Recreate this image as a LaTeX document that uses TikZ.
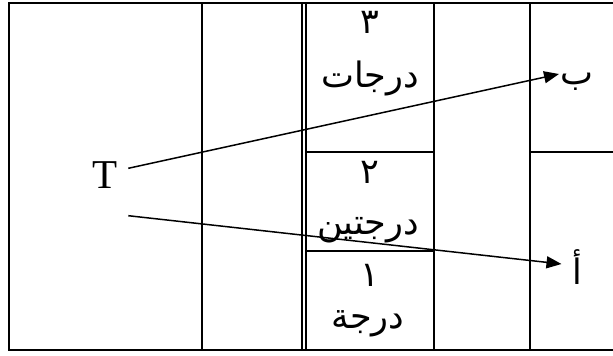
\documentclass[tikz,border=0pt]{standalone}
\usepackage{fontspec}
\setmainfont{Liberation Serif}
\newfontfamily\arabicfont[Script=Arabic]{DejaVu Sans}
\TeXXeTstate=1
\usetikzlibrary{arrows.meta}
\begin{document}
\begin{tikzpicture}[x=1pt,y=-1pt,
  grid/.style={line width=2pt,black},
  conn/.style={line width=1.5pt,-{Triangle[length=15pt,width=12pt]}},
  ar/.style={font=\arabicfont\fontsize{35}{40}\selectfont,inner sep=0pt},
  lat/.style={font=\fontsize{41}{46}\selectfont,inner sep=0pt}]
\useasboundingbox (0,0) rectangle (613,356);
% frame
\draw[grid] (613,3) -- (8.6,3) -- (8.6,350) -- (613,350);
\draw[grid] (201.5,3) -- (201.5,350);
\draw[grid] (302.3,3) -- (302.3,350);
\draw[grid] (305.7,3) -- (305.7,350);
\draw[grid] (434,3) -- (434,350);
\draw[grid] (530,3) -- (530,350);
\draw[grid] (305.7,151.7) -- (434,151.7);
\draw[grid] (305.7,250.5) -- (434,250.5);
\draw[grid] (530,151.7) -- (613,151.7);
% texts
\node[lat] (T) at (105,175.5) {T};
\node[ar] (n3) at (369.5,22.5) {\beginR ٣\endR};
\node[ar] (w3) at (370,78) {\beginR درجات\endR};
\node[ar] (n2) at (369.5,172) {\beginR ٢\endR};
\node[ar] (w2) at (368,230) {\beginR درجتين\endR};
\node[ar] (n1) at (369.5,275) {\beginR ١\endR};
\node[ar] (w1) at (368,324) {\beginR درجة\endR};
\node[ar] (b) at (577,82) {\beginR ب\endR};
\node[ar] (a) at (577,267) {\beginR أ\endR};
% connectors
\coordinate (s1) at (128.3,168.3);
\coordinate (e1) at (559,74);
\coordinate (s2) at (128.3,215.7);
\coordinate (e2) at (561.5,264);
\draw[conn] (s1) -- (e1);
\draw[conn] (s2) -- (e2);
\end{tikzpicture}
\end{document}
